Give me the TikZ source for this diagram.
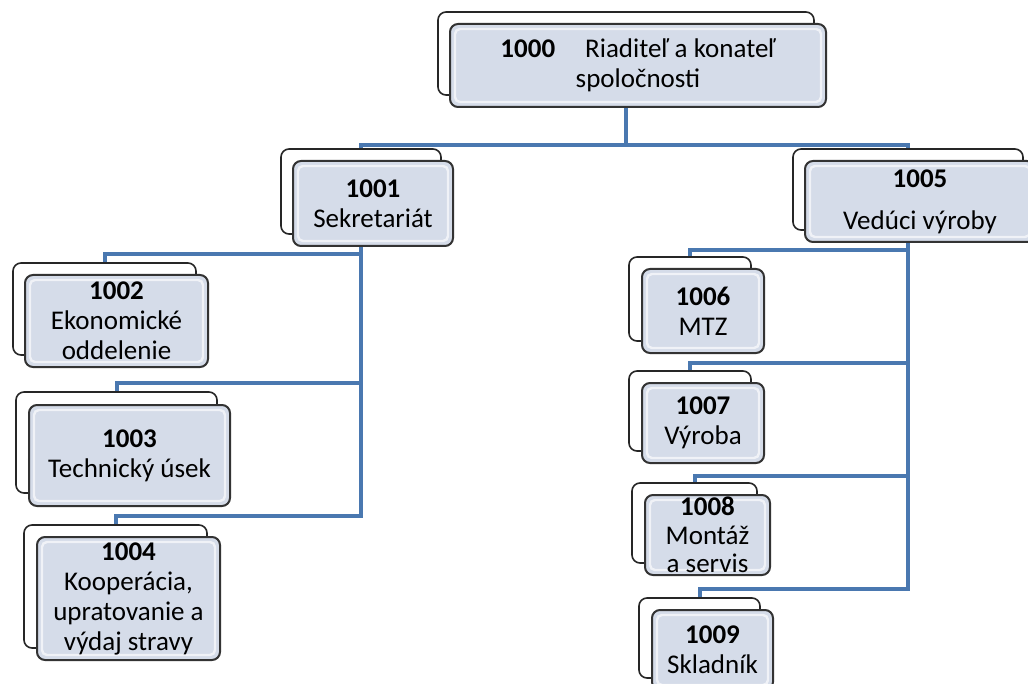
\documentclass[tikz,border=0pt]{standalone}
\usepackage{fontspec}
\setmainfont{Carlito}
\usepackage{tikz}
\usetikzlibrary{backgrounds}
\definecolor{boxfill}{RGB}{213,220,233}
\definecolor{linkblue}{RGB}{74,120,176}
\tikzset{
  unitbox/.style={rectangle, rounded corners=4pt, draw=black!80, line width=1pt, fill=boxfill, align=center, inner xsep=2pt, inner ysep=0pt, font=\fontsize{13.5}{15}\selectfont,
    path picture={\draw[white, opacity=.65, line width=1.2pt, rounded corners=2.5pt] ([shift={(2.5pt,2.5pt)}]path picture bounding box.south west) rectangle ([shift={(-2.5pt,-2.5pt)}]path picture bounding box.north east);}},
  shadowbox/.style={rectangle, rounded corners=4pt, draw=black!85, line width=0.8pt, fill=white},
  link/.style={draw=linkblue, line width=2pt},
}

\begin{document}
\begin{tikzpicture}[x=0.5pt, y=-0.5pt]
  \useasboundingbox (0,0) rectangle (1028,684);

  % Top
  \node[shadowbox, minimum width=188pt, minimum height=41.5pt] (ceo-b) at (626,53.5) {};
  \node[unitbox, minimum width=188pt, minimum height=41.5pt] (ceo) at (638,65.5) {\textbf{1000}\hspace{15pt}Riaditeľ a konateľ\\spoločnosti};

  % Second level
  \node[shadowbox, minimum width=80pt, minimum height=42.5pt] (sek-b) at (361,191.5) {};
  \node[unitbox, minimum width=80pt, minimum height=42.5pt] (sek) at (373,203.5) {\textbf{1001}\\Sekretariát};
  \node[shadowbox, minimum width=115pt, minimum height=40.5pt] (ved-b) at (908,189.5) {};
  \node[unitbox, minimum width=115pt, minimum height=40.5pt] (ved) at (920,201.5) {\textbf{1005}\\[6pt]Vedúci výroby};

  % Left column
  \node[shadowbox, minimum width=91.5pt, minimum height=46pt] (eko-b) at (104.5,309) {};
  \node[unitbox, minimum width=91.5pt, minimum height=46pt] (eko) at (116.5,321) {\textbf{1002}\\Ekonomické\\oddelenie};
  \node[shadowbox, minimum width=100.5pt, minimum height=50.5pt] (tech-b) at (116.5,442.5) {};
  \node[unitbox, minimum width=100.5pt, minimum height=50.5pt] (tech) at (129.5,455.5) {\textbf{1003}\\Technický úsek};
  \node[shadowbox, minimum width=91.5pt, minimum height=61.5pt] (koop-b) at (115.5,586.5) {};
  \node[unitbox, minimum width=91.5pt, minimum height=61.5pt] (koop) at (128.5,598.5) {\textbf{1004}\\Kooperácia,\\upratovanie a\\výdaj stravy};

  % Right column
  \node[shadowbox, minimum width=61pt, minimum height=42pt] (mtz-b) at (690,299) {};
  \node[unitbox, minimum width=61pt, minimum height=42pt] (mtz) at (703,311) {\textbf{1006}\\MTZ};
  \node[shadowbox, minimum width=61pt, minimum height=40pt] (vyr-b) at (690,411) {};
  \node[unitbox, minimum width=61pt, minimum height=40pt] (vyr) at (703,423) {\textbf{1007}\\Výroba};
  \node[shadowbox, minimum width=62.5pt, minimum height=40pt] (mont-b) at (694.5,523) {};
  \node[unitbox, minimum width=62.5pt, minimum height=40pt, font=\fontsize{13.5}{14.3}\selectfont] (mont) at (707.5,535) {\textbf{1008}\\Montáž\\a servis};
  \node[shadowbox, minimum width=60.5pt, minimum height=40pt] (skl-b) at (699.5,638) {};
  \node[unitbox, minimum width=60.5pt, minimum height=40pt] (skl) at (712.5,650) {\textbf{1009}\\Skladník};

  % Connectors
  \begin{scope}[on background layer]
    \draw[link] (ceo-b.center) |- (sek-b.north |- 0,145) -- (sek-b.north);
    \draw[link] (ceo-b.center) |- (ved-b.north |- 0,145) -- (ved-b.north);
    \draw[link] (sek-b.center) |- (eko-b.north |- 0,254) -- (eko-b.north);
    \draw[link] (sek-b.center) |- (tech-b.north |- 0,383) -- (tech-b.north);
    \draw[link] (sek-b.center) |- (koop-b.north |- 0,516) -- (koop-b.north);
    \draw[link] (ved-b.center) |- (mtz-b.north |- 0,250) -- (mtz-b.north);
    \draw[link] (ved-b.center) |- (vyr-b.north |- 0,363) -- (vyr-b.north);
    \draw[link] (ved-b.center) |- (mont-b.north |- 0,476) -- (mont-b.north);
    \draw[link] (ved-b.center) |- (skl-b.north |- 0,589) -- (skl-b.north);
  \end{scope}

\end{tikzpicture}
\end{document}
